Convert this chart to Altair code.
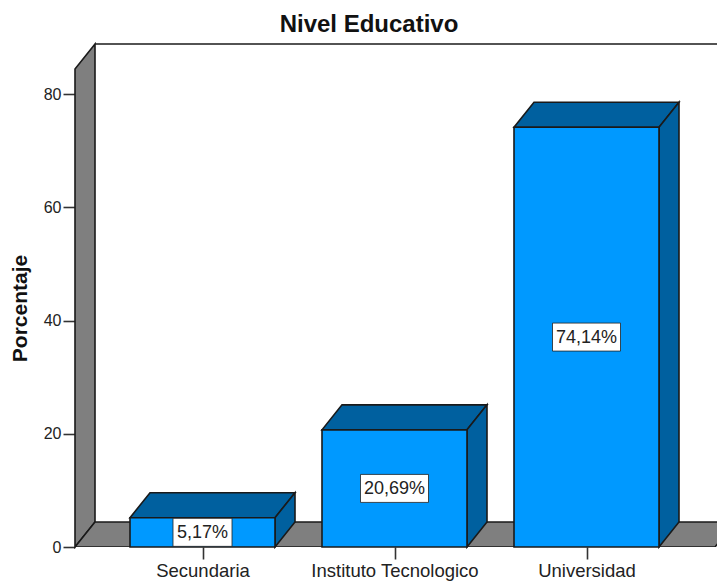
import json
import altair as alt
import pandas as pd

categories = ["Secundaria", "Instituto Tecnologico", "Universidad"]
values = [5.17, 20.69, 74.14]
labels = ["5,17%", "20,69%", "74,14%"]
y_ticks = [0, 20, 40, 60, 80]

FONT = "Liberation Sans"
WALL = "#7f7f7f"
FRONT = "#0099ff"
DARK = "#00609f"
LINE = "#1a1a1a"

# scale geometry: one x unit = spacing between categories
PW, PH = 642, 503
Y_PX = 453 / 80
X_PX = 192.0
XMIN = -127.5 / X_PX
XMAX = XMIN + PW / X_PX
YMAX = PH / Y_PX
DX = 20 / X_PX
DY = 25 / Y_PX
BW = 145 / X_PX
FRONT_TOP = 478 / Y_PX
FLOOR_R = XMIN + 640 / X_PX

xs = alt.Scale(domain=[XMIN, XMAX], nice=False, zero=False)
ys = alt.Scale(domain=[0, YMAX], nice=False, zero=False)


def slab(x0, x1, v):
    """Parallelogram receding from the front edge x0..x1 at height v."""
    return [
        dict(x=x0, y=v, y2=v),
        dict(x=x0 + DX, y=v, y2=v + DY),
        dict(x=x1, y=v, y2=v + DY),
        dict(x=x1 + DX, y=v + DY, y2=v + DY),
    ]


def poly(rows, fill, clip=False):
    return (
        alt.Chart(pd.DataFrame(rows))
        .mark_area(fill=fill, stroke=LINE, strokeWidth=1.6, orient="vertical", clip=clip)
        .encode(
            x=alt.X("x:Q", scale=xs, axis=None),
            y=alt.Y("y:Q", scale=ys, axis=None, stack=None),
            y2="y2:Q",
        )
    )


label_expr = json.dumps(categories) + "[datum.value]"
axes = (
    alt.Chart(pd.DataFrame({"x": [0.0], "y": [0.0]}))
    .mark_point(opacity=0)
    .encode(
        x=alt.X(
            "x:Q",
            scale=xs,
            title=None,
            axis=alt.Axis(
                values=[0, 1, 2], labelExpr=label_expr, grid=False, domain=False,
                tickSize=12, tickWidth=1.6, tickColor="#333333", labelFont=FONT,
                labelFontSize=18.5, labelColor="#222222", labelPadding=2, labelOverlap=False,
                labelFlush=False,
            ),
        ),
        y=alt.Y(
            "y:Q",
            scale=ys,
            title="Porcentaje",
            axis=alt.Axis(
                values=y_ticks, grid=False, domain=False, tickSize=12, tickWidth=1.6,
                tickColor="#333333", labelFont=FONT, labelFontSize=16, labelColor="#222222",
                labelPadding=2, titleFont=FONT, titleFontSize=21, titleFontWeight="bold",
                titleColor="#111111", titleX=-45, titleY=264,
            ),
        ),
    )
)

left_wall = poly(
    [
        dict(x=XMIN, y=0, y2=FRONT_TOP),
        dict(x=XMIN + DX, y=DY, y2=YMAX),
    ],
    WALL,
)
floor = poly(slab(XMIN, FLOOR_R, 0), WALL, clip=True)
top_edge = (
    alt.Chart(pd.DataFrame({"x": [XMIN + DX], "x2": [XMAX], "y": [YMAX]}))
    .mark_rule(color=LINE, strokeWidth=1.6)
    .encode(
        x=alt.X("x:Q", scale=xs, axis=None),
        x2="x2:Q",
        y=alt.Y("y:Q", scale=ys, axis=None),
    )
)

bar_layers, front_rows, box_rows = [], [], []
for i, (v, lab) in enumerate(zip(values, labels)):
    x0, x1 = i - BW / 2, i + BW / 2
    bar_layers.append(poly(slab(x0, x1, v), DARK))
    bar_layers.append(
        poly(
            [
                dict(x=x1, y=0, y2=v),
                dict(x=x1 + DX, y=DY, y2=v + DY),
            ],
            DARK,
        )
    )
    front_rows.append(dict(x=x0, x2=x1, y=0, y2=v))
    half_w = (9 * len(lab) + 14) / 2 / X_PX
    half_h = 14 / Y_PX
    box_rows.append(
        dict(
            x=i - half_w, x2=i + half_w,
            y=max(0, v / 2 - half_h), y2=min(v, v / 2 + half_h),
            cx=i, cy=v / 2, t=lab,
        )
    )

fronts = (
    alt.Chart(pd.DataFrame(front_rows))
    .mark_rect(fill=FRONT, stroke=LINE, strokeWidth=1.6)
    .encode(
        x=alt.X("x:Q", scale=xs, axis=None),
        x2="x2:Q",
        y=alt.Y("y:Q", scale=ys, axis=None),
        y2="y2:Q",
    )
)
boxes = (
    alt.Chart(pd.DataFrame(box_rows))
    .mark_rect(fill="white", stroke="#222222", strokeWidth=0.8)
    .encode(
        x=alt.X("x:Q", scale=xs, axis=None),
        x2="x2:Q",
        y=alt.Y("y:Q", scale=ys, axis=None),
        y2="y2:Q",
    )
)
texts = (
    alt.Chart(pd.DataFrame(box_rows))
    .mark_text(font=FONT, fontSize=18, color="#222222", align="center", baseline="middle", dy=1)
    .encode(
        x=alt.X("cx:Q", scale=xs, axis=None),
        y=alt.Y("cy:Q", scale=ys, axis=None),
        text="t:N",
    )
)

chart = (
    alt.layer(left_wall, floor, top_edge, axes, *bar_layers, fronts, boxes, texts)
    .resolve_axis(x="independent", y="independent")
    .properties(
        width=PW,
        height=PH,
        padding={"left": 67, "top": 36, "right": 0, "bottom": 35},
        autosize=alt.AutoSizeParams(type="none"),
        background="white",
        title=alt.TitleParams(
            "Nivel Educativo", font=FONT, fontSize=24, fontWeight="bold", color="#111111",
            anchor="middle", dx=-27, offset=4,
        ),
    )
    .configure_view(stroke=None)
)
chart.save("out.html", embed_options={"renderer": "svg", "actions": False})
